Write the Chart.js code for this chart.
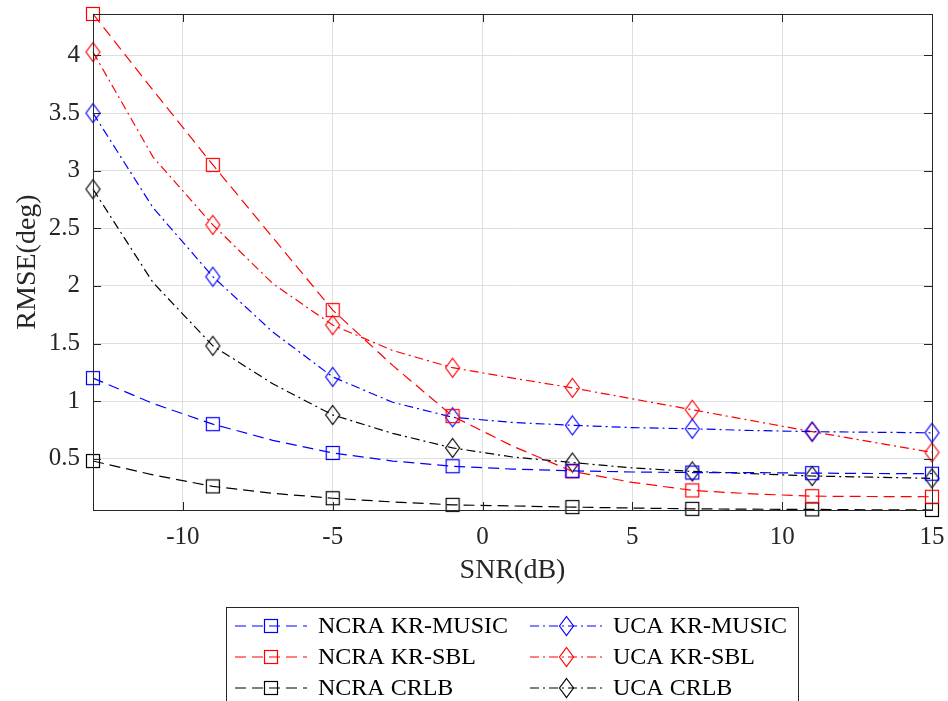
<!DOCTYPE html>
<html>
<head>
<meta charset="utf-8">
<script src="https://cdn.jsdelivr.net/npm/chart.js@4.4.1/dist/chart.umd.min.js"></script>
<style>
  body { margin: 0; background: #fff; }
  canvas { display: block; }
</style>
</head>
<body>
<canvas id="rmseChart" width="948" height="701"></canvas>
<script>
// SNR grid (markers every 4 dB, line points every 2 dB)
const snr = [-13, -11, -9, -7, -5, -3, -1, 1, 3, 5, 7, 9, 11, 13, 15];

const ncraKrMusic = [1.20, 0.98, 0.80, 0.66, 0.55, 0.48, 0.435, 0.41, 0.395, 0.385, 0.38, 0.38, 0.375, 0.372, 0.37];
const ncraKrSbl   = [4.36, 3.70, 3.05, 2.42, 1.79, 1.31, 0.87, 0.61, 0.39, 0.295, 0.225, 0.195, 0.175, 0.172, 0.17];
const ncraCrlb    = [0.48, 0.36, 0.26, 0.20, 0.157, 0.125, 0.10, 0.09, 0.08, 0.072, 0.065, 0.062, 0.06, 0.057, 0.055];
const ucaKrMusic  = [3.50, 2.68, 2.08, 1.60, 1.21, 0.99, 0.86, 0.815, 0.79, 0.77, 0.76, 0.745, 0.735, 0.73, 0.725];
const ucaKrSbl    = [4.03, 3.12, 2.53, 2.02, 1.66, 1.44, 1.29, 1.20, 1.115, 1.02, 0.925, 0.83, 0.735, 0.645, 0.555];
const ucaCrlb     = [2.84, 2.03, 1.48, 1.15, 0.88, 0.72, 0.594, 0.515, 0.467, 0.42, 0.39, 0.37, 0.35, 0.34, 0.33];

const seriesNames = ["NCRA KR-MUSIC", "NCRA KR-SBL", "NCRA CRLB", "UCA KR-MUSIC", "UCA KR-SBL", "UCA CRLB"];

const xTicks = [-10, -5, 0, 5, 10, 15];
const yTicks = [0.5, 1, 1.5, 2, 2.5, 3, 3.5, 4];
const xLabel = "SNR(dB)";
const yLabel = "RMSE(deg)";

const serif = '"Liberation Serif", "DejaVu Serif", serif';
const axisColor = '#262626';
const dashed = [11, 6];
const dashDot = [9, 4, 2, 4];

// hollow markers like matlab
function makeMarker(shape, color) {
  const cv = document.createElement('canvas');
  const g = cv.getContext('2d');
  if (shape === 'square') {
    cv.width = 16; cv.height = 16;
    g.strokeStyle = color; g.lineWidth = 1.2;
    g.strokeRect(1.5, 1.5, 13, 13);
  } else {
    cv.width = 17; cv.height = 22;
    g.strokeStyle = color; g.lineWidth = 1.2;
    g.beginPath();
    g.moveTo(8.5, 1.5); g.lineTo(15.5, 11); g.lineTo(8.5, 20.5); g.lineTo(1.5, 11);
    g.closePath(); g.stroke();
  }
  return cv;
}

function series(label, values, color, dash, shape) {
  return {
    label: label,
    data: values.map((v, i) => ({ x: snr[i], y: v })),
    borderColor: color,
    backgroundColor: color,
    borderWidth: 1.2,
    borderDash: dash,
    pointStyle: makeMarker(shape, color),
    pointRadius: ctx => (ctx.dataIndex % 2 === 0 ? 8 : 0),
    tension: 0,
    fill: false,
    clip: false
  };
}

// inner ticks and full box
const boxPlugin = {
  id: 'matlabBox',
  afterDatasetsDraw(chart) {
    const { ctx, chartArea: a, scales: { x, y } } = chart;
    ctx.save();
    ctx.strokeStyle = axisColor;
    ctx.lineWidth = 1;
    ctx.beginPath();
    xTicks.forEach(t => {
      const px = Math.round(x.getPixelForValue(t)) + 0.5;
      ctx.moveTo(px, a.bottom); ctx.lineTo(px, a.bottom - 8);
      ctx.moveTo(px, a.top); ctx.lineTo(px, a.top + 8);
    });
    yTicks.forEach(t => {
      const py = Math.round(y.getPixelForValue(t)) + 0.5;
      ctx.moveTo(a.left, py); ctx.lineTo(a.left + 8, py);
      ctx.moveTo(a.right, py); ctx.lineTo(a.right - 8, py);
    });
    ctx.stroke();
    ctx.strokeRect(Math.round(a.left) + 0.5, Math.round(a.top) + 0.5,
      Math.round(a.right - a.left), Math.round(a.bottom - a.top));
    ctx.restore();
  }
};

const legendPlugin = {
  id: 'boxLegend',
  afterDraw(chart) {
    const c = chart.ctx;
    c.save();
    c.fillStyle = '#fff';
    c.fillRect(226, 607, 572, 100);
    c.strokeStyle = axisColor;
    c.lineWidth = 1;
    c.strokeRect(226.5, 607.5, 572, 100);
    chart.data.datasets.forEach((ds, i) => {
      const col = Math.floor(i / 3), row = i % 3;
      const x0 = 235 + col * 295;
      const yy = 626 + row * 31;
      c.strokeStyle = ds.borderColor;
      c.lineWidth = ds.borderWidth;
      c.setLineDash(ds.borderDash);
      c.beginPath(); c.moveTo(x0, yy); c.lineTo(x0 + 72, yy); c.stroke();
      c.setLineDash([]);
      const m = ds.pointStyle;
      c.drawImage(m, Math.round(x0 + 36 - m.width / 2), Math.round(yy - m.height / 2));
      c.fillStyle = '#000';
      c.font = '24px ' + serif;
      c.textBaseline = 'middle';
      c.textAlign = 'left';
      c.fillText(ds.label, x0 + 83, yy + 1);
    });
    c.restore();
  }
};

new Chart(document.getElementById('rmseChart').getContext('2d'), {
  type: 'line',
  data: {
    datasets: [
      series(seriesNames[0], ncraKrMusic, '#0000ff', dashed, 'square'),
      series(seriesNames[1], ncraKrSbl, '#ff0000', dashed, 'square'),
      series(seriesNames[2], ncraCrlb, '#000000', dashed, 'square'),
      series(seriesNames[3], ucaKrMusic, '#0000ff', dashDot, 'diamond'),
      series(seriesNames[4], ucaKrSbl, '#ff0000', dashDot, 'diamond'),
      series(seriesNames[5], ucaCrlb, '#000000', dashDot, 'diamond')
    ]
  },
  options: {
    responsive: false,
    animation: false,
    devicePixelRatio: 1,
    events: [],
    layout: { padding: { left: 0, top: 14, right: 16, bottom: 114 } },
    plugins: {
      legend: { display: false },
      tooltip: { enabled: false }
    },
    scales: {
      x: {
        type: 'linear',
        min: -13,
        max: 15,
        afterBuildTicks: s => { s.ticks = xTicks.map(v => ({ value: v })); },
        afterFit: s => { s.height = 77; s.paddingLeft = 0; s.paddingRight = 0; },
        grid: { color: '#dfdfdf', lineWidth: 1, drawTicks: false },
        border: { display: false },
        ticks: { color: axisColor, padding: 12, font: { family: serif, size: 25 }, maxRotation: 0,
          callback: v => String(v) },
        title: { display: true, text: xLabel, color: axisColor, font: { family: serif, size: 28 }, padding: { top: 0, bottom: 0 } }
      },
      y: {
        min: 0.055,
        max: 4.36,
        afterBuildTicks: s => { s.ticks = yTicks.map(v => ({ value: v })); },
        afterFit: s => { s.width = 93; s.paddingTop = 0; s.paddingBottom = 0; },
        grid: { color: '#dfdfdf', lineWidth: 1, drawTicks: false },
        border: { display: false },
        ticks: { color: axisColor, padding: 13, font: { family: serif, size: 25 },
          callback: v => String(v) },
        title: { display: true, text: yLabel, color: axisColor, font: { family: serif, size: 28 }, padding: { top: 11, bottom: 0 } }
      }
    }
  },
  plugins: [boxPlugin, legendPlugin]
});
</script>
</body>
</html>
